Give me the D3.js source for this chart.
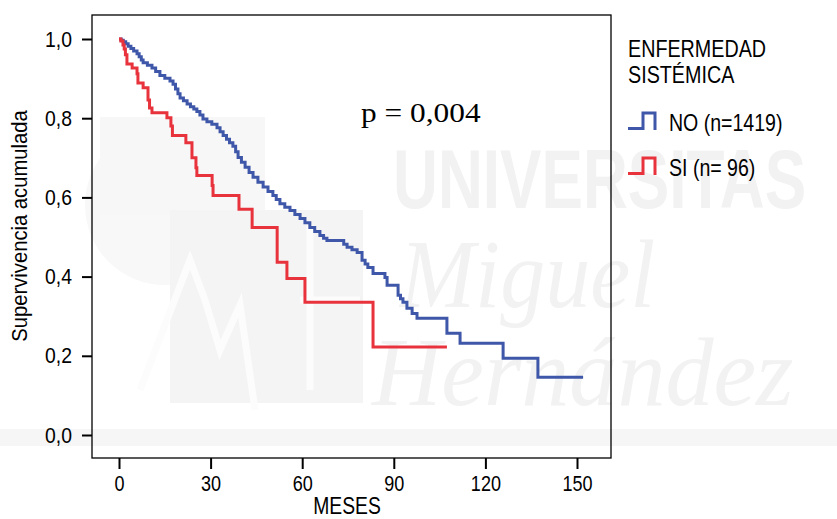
<!DOCTYPE html>
<html>
<head>
<meta charset="utf-8">
<script src="https://cdn.jsdelivr.net/npm/d3@7"></script>
<style>
  body { margin: 0; background: #fff; }
  text { font-family: "Liberation Sans", Arial, sans-serif; }
</style>
</head>
<body>
<div class="chart"></div>
<script>
var width = 837, height = 519;

// tiempos (meses) y supervivencia tras cada escalon
var noTime = [0.7, 1.4, 2.2, 3.0, 3.9, 4.8, 5.9, 6.6, 7.3, 7.9, 9.3, 10.8, 12.0, 13.4, 15.0, 16.7, 17.7, 18.5, 19.3, 20.0,
              21.1, 22.3, 23.4, 24.5, 25.5, 26.5, 27.5, 28.8, 30.4, 32.1, 33.1, 34.1, 35.2, 36.2, 37.3, 38.2, 39.0, 40.1,
              41.3, 42.6, 43.9, 45.5, 47.2, 48.8, 50.4, 51.5, 52.7, 54.3, 56.0, 57.6, 59.3, 60.9, 62.5, 64.1, 65.8, 67.0,
              68.1, 73.6, 74.7, 76.3, 78.0, 79.6, 80.6, 81.5, 83.2, 87.1, 87.8, 91.4, 92.2, 93.0, 94.3, 96.0, 97.6,
              107.4, 111.7, 125.8, 137.2];
var noSurv = [0.997, 0.993, 0.988, 0.982, 0.976, 0.970, 0.963, 0.955, 0.947, 0.940, 0.934, 0.927, 0.918, 0.908, 0.901, 0.894, 0.886, 0.874, 0.862, 0.851,
              0.844, 0.836, 0.829, 0.823, 0.817, 0.808, 0.798, 0.791, 0.785, 0.776, 0.766, 0.756, 0.747, 0.738, 0.729, 0.715, 0.701, 0.689,
              0.676, 0.663, 0.651, 0.638, 0.626, 0.615, 0.605, 0.595, 0.584, 0.575, 0.567, 0.557, 0.547, 0.536, 0.524, 0.514, 0.504, 0.497,
              0.491, 0.482, 0.474, 0.468, 0.461, 0.441, 0.432, 0.423, 0.408, 0.398, 0.378, 0.353, 0.344, 0.335, 0.320, 0.307, 0.295,
              0.257, 0.232, 0.194, 0.146];
var noEnd = 152;

var siTime = [0.6, 1.3, 1.7, 2.1, 2.6, 4.3, 5.9, 6.2, 7.9, 9.5, 10.0, 10.8, 15.7, 17.0, 17.5, 21.9, 23.9, 25.2, 25.5,
              30.5, 30.8, 39.3, 43.6, 51.8, 55.0, 60.9, 83.2];
var siSurv = [0.995, 0.985, 0.975, 0.960, 0.937, 0.927, 0.912, 0.889, 0.877, 0.846, 0.826, 0.814, 0.801, 0.780, 0.756, 0.738, 0.700, 0.675, 0.655,
              0.630, 0.605, 0.570, 0.524, 0.436, 0.395, 0.335, 0.222];
var siEnd = 107.4;

var xTicks = [0, 30, 60, 90, 120, 150];
var yTicks = [0, 0.2, 0.4, 0.6, 0.8, 1.0];
var legendLabels = ["NO (n=1419)", "SI (n= 96)"];
var colors = ["#3f57a9", "#e8333d"];

var svg = d3.select(".chart")
        .append("svg")
        .attr("width", width)
        .attr("height", height);

// texto estrechado en horizontal (la fuente original es condensada)
function narrow(sel, k) {
  sel.each(function(){
    var t = d3.select(this);
    var tx = +t.attr("x") || 0, ty = +t.attr("y") || 0;
    t.attr("x", 0).attr("y", 0)
     .attr("transform", "translate(" + tx + "," + ty + ") scale(" + k + ",1)");
  });
}

// marca de agua (muy tenue)
var wm = svg.append("g").attr("fill", "#f2f2f2");
wm.append("rect").attr("x", 0).attr("y", 429).attr("width", width).attr("height", 17).attr("fill", "#f6f6f6");
wm.append("circle").attr("cx", 165).attr("cy", 205).attr("r", 80).attr("fill", "#f8f8f8");
wm.append("rect").attr("x", 100).attr("y", 117).attr("width", 165).attr("height", 98).attr("fill", "#f7f7f7");
wm.append("rect").attr("x", 170).attr("y", 210).attr("width", 193).attr("height", 193).attr("fill", "#f4f4f4");
wm.append("path")
    .attr("d", "M140,390L190,260L205,300L220,350L240,305L255,410M310,225V390M300,300H360")
    .attr("fill", "none").attr("stroke", "#fcfcfc").attr("stroke-width", 7);
wm.append("text").attr("x", 393).attr("y", 208)
    .style("font-size", "84px").style("font-weight", "bold")
    .text("UNIVERSITAS").call(narrow, 0.74);
wm.append("text").attr("x", 400).attr("y", 307)
    .style("font-family", "'Liberation Serif', serif").style("font-style", "italic").style("font-size", "98px")
    .text("Miguel").call(narrow, 0.92);
wm.append("text").attr("x", 372).attr("y", 405)
    .style("font-family", "'Liberation Serif', serif").style("font-style", "italic").style("font-size", "98px")
    .text("Hernández").call(narrow, 0.98);

var x = d3.scaleLinear().domain([0, 150]).range([119, 577]);
var y = d3.scaleLinear().domain([0, 1]).range([435, 39]);

// marco
svg.append("rect")
    .attr("x", 92).attr("y", 15)
    .attr("width", 519).attr("height", 443)
    .attr("fill", "none")
    .attr("stroke", "#000")
    .attr("stroke-width", 1.3);

var yAxis = svg.append("g")
    .attr("transform", "translate(92,0)")
    .call(d3.axisLeft(y).tickValues(yTicks).tickSize(10).tickPadding(10)
        .tickFormat(function(d){ return d3.format(".1f")(d).replace(".", ","); }));
yAxis.select(".domain").remove();
yAxis.selectAll("line").attr("stroke-width", 2);
yAxis.selectAll("text").style("font-size", "22px").attr("fill", "#000")
    .style("font-family", "'Liberation Sans', sans-serif")
    .attr("transform", "scale(0.88,1)").attr("x", -20 / 0.88);

var xAxis = svg.append("g")
    .attr("transform", "translate(0,458)")
    .call(d3.axisBottom(x).tickValues(xTicks).tickSize(11).tickPadding(6));
xAxis.select(".domain").remove();
xAxis.selectAll("line").attr("stroke-width", 2);
xAxis.selectAll("text").style("font-size", "22px").attr("fill", "#000")
    .style("font-family", "'Liberation Sans', sans-serif")
    .attr("transform", "scale(0.82,1)");

svg.append("text")
    .attr("x", 347).attr("y", 514)
    .attr("text-anchor", "middle")
    .style("font-size", "23px")
    .text("MESES").call(narrow, 0.84);

svg.append("text")
    .attr("transform", "translate(27,226) rotate(-90) scale(0.92,1)")
    .attr("text-anchor", "middle")
    .style("font-size", "22px")
    .text("Supervivencia acumulada");

// curvas de Kaplan-Meier
function steps(times, surv, end) {
  var pts = [[0, 1]];
  times.forEach(function(t, i){ pts.push([t, surv[i]]); });
  pts.push([end, surv[surv.length - 1]]);
  return pts;
}

var line = d3.line()
    .x(function(d){ return x(d[0]); })
    .y(function(d){ return y(d[1]); })
    .curve(d3.curveStepAfter);

var series = [steps(noTime, noSurv, noEnd), steps(siTime, siSurv, siEnd)];

svg.selectAll("path.km")
    .data(series)
    .enter().append("path")
    .attr("class", "km")
    .attr("d", line)
    .attr("fill", "none")
    .attr("stroke", function(d, i){ return colors[i]; })
    .attr("stroke-width", 3);

svg.append("text")
    .attr("x", 361).attr("y", 122)
    .style("font-family", "'Liberation Serif', 'Times New Roman', serif")
    .style("font-size", "28px")
    .text("p = 0,004").call(narrow, 1.12);

// leyenda
var leg = svg.append("g");
leg.append("text").attr("x", 628).attr("y", 57).style("font-size", "23.5px").text("ENFERMEDAD").call(narrow, 0.84);
leg.append("text").attr("x", 628).attr("y", 83).style("font-size", "23.5px").text("SISTÉMICA").call(narrow, 0.84);

var item = leg.selectAll("g.item")
    .data(legendLabels)
    .enter().append("g")
    .attr("class", "item")
    .attr("transform", function(d, i){ return "translate(0," + (i * 45) + ")"; });

item.append("path")
    .attr("d", "M628,128.5H643V113H655V130")
    .attr("fill", "none")
    .attr("stroke", function(d, i){ return colors[i]; })
    .attr("stroke-width", 3);

item.append("text")
    .attr("x", 669).attr("y", 131)
    .style("font-size", "23px")
    .text(function(d){ return d; }).call(narrow, 0.85);
</script>
</body>
</html>
